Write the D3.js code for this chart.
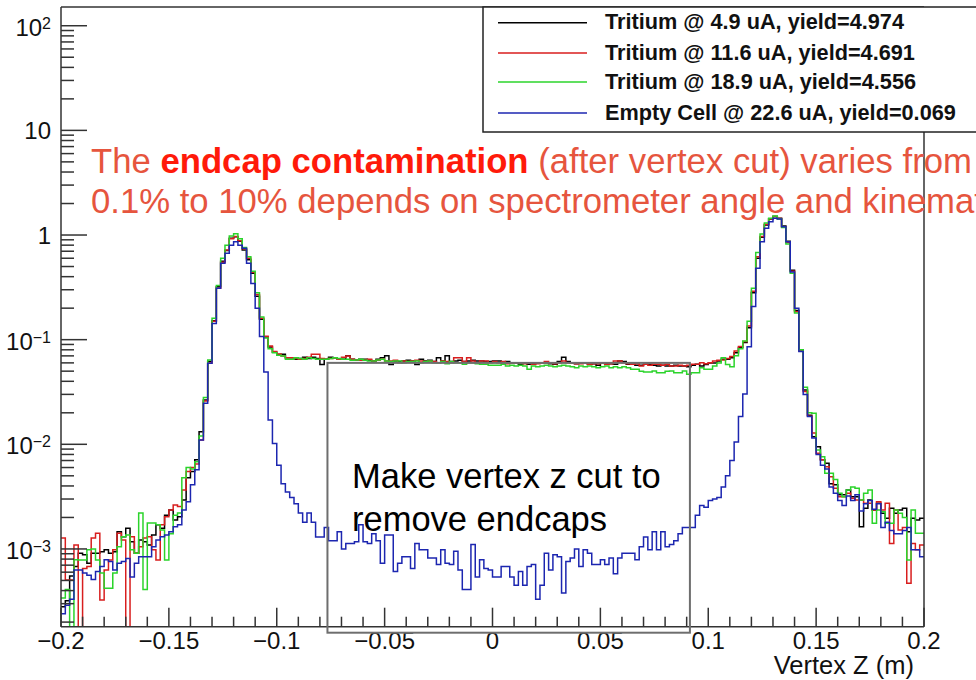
<!DOCTYPE html>
<html>
<head>
<meta charset="utf-8">
<script src="https://cdn.jsdelivr.net/npm/d3@7"></script>
<style>
  html, body { margin: 0; padding: 0; background: #fff; }
  svg { display: block; font-family: "Liberation Sans", Arial, Helvetica, sans-serif; }
</style>
</head>
<body>
<div id="chart"></div>
<script>
// Vertex Z histograms, 200 bins of 0.002 m from -0.2 to 0.2 (ROOT-style log plot).

const zMin = -0.2, zMax = 0.2, binWidth = 0.002;

// Empty cell @ 22.6 uA (blue)
const emptyCell = [
  2.4e-4, 2.9e-4, 3.3e-4, 6.3e-4, 6.3e-4, 5.9e-4, 5.6e-4, 5.1e-4, 6.1e-4, 6.8e-4,
  7.9e-4, 7.6e-4, 6.3e-4, 7.3e-4, 7.6e-4, 8.1e-4, 5.4e-4, 7.3e-4, 8.4e-4, 8.4e-4,
  8.4e-4, 1.05e-3, 1.22e-3, 1.31e-3, 1.36e-3, 1.46e-3, 1.63e-3, 1.7e-3, 2.36e-3, 2.83e-3,
  4.1e-3, 5.7e-3, 0.011, 0.0247, 0.0594, 0.143, 0.31, 0.537, 0.668, 0.80,
  0.863, 0.80, 0.746, 0.537, 0.345, 0.20, 0.107, 0.049, 0.0171, 0.0102,
  0.0063, 0.0042, 0.0035, 0.0031, 0.0027, 0.0022, 0.0018, 0.0022, 0.0018, 0.0013,
  0.0013, 0.0016, 0.0012, 0.0012, 0.00146, 0.0010, 0.00113, 0.00113, 0.00117, 0.0017,
  0.00117, 0.00113, 0.0014, 0.0012, 0.00073, 0.00136, 0.00136, 0.00061, 0.00073, 0.00084,
  0.00084, 0.00065, 0.00113, 0.00098, 0.00098, 0.00082, 0.00082, 0.00071, 0.00098, 0.00073,
  0.00071, 0.00095, 0.00063, 0.00041, 0.00041, 0.0011, 0.00054, 0.00079, 0.00065, 0.00063,
  0.00054, 0.00054, 0.00068, 0.00068, 0.00054, 0.00045, 0.00061, 0.00045, 0.00068, 0.00071,
  0.00033, 0.00045, 0.00091, 0.00063, 0.00088, 0.00084, 0.00038, 0.00076, 0.00082, 0.0010,
  0.00068, 0.00098, 0.00091, 0.00071, 0.00071, 0.00079, 0.00071, 0.00082, 0.00058, 0.00082,
  0.00091, 0.00091, 0.00091, 0.00079, 0.00105, 0.0013, 0.00098, 0.00146, 0.00098, 0.00146,
  0.00105, 0.0011, 0.0012, 0.0014, 0.0016, 0.0016, 0.0016, 0.0021, 0.0026, 0.0025,
  0.0029, 0.0030, 0.0031, 0.0039, 0.0050, 0.0070, 0.0105, 0.0184, 0.0303, 0.0855,
  0.207, 0.481, 0.863, 1.16, 1.34, 1.45, 1.42, 1.2, 0.863, 0.444,
  0.2, 0.077, 0.03, 0.0184, 0.0115, 0.008, 0.0063, 0.0058, 0.0039, 0.0034,
  0.0029, 0.0026, 0.0032, 0.0029, 0.0033, 0.0023, 0.0027, 0.0029, 0.0024, 0.0027,
  0.0016, 0.0018, 0.0015, 0.0014, 0.0014, 0.0015, 0.0016, 0.00098, 0.00098, 0.00084
];

// Tritium @ 4.9 uA (black)
const tritium49 = [
  2.8e-4, 3.2e-4, 5.5e-4, 6.8e-4, 9.1e-4, 8.8e-4, 7.3e-4, 9.1e-4, 9.1e-4, 9.4e-4,
  9.8e-4, 9.1e-4, 9.4e-4, 1.46e-3, 1.31e-3, 1.58e-3, 1.17e-3, 9.1e-4, 1.22e-3, 1.17e-3,
  1.09e-3, 1.36e-3, 1.7e-3, 1.58e-3, 2.1e-3, 2.36e-3, 1.89e-3, 2.03e-3, 2.94e-3, 4.8e-3,
  5.5e-3, 7.1e-3, 0.0132, 0.0265, 0.062, 0.152, 0.32, 0.56, 0.71, 0.93,
  0.96, 0.87, 0.72, 0.58, 0.43, 0.26, 0.157, 0.106, 0.085, 0.076,
  0.072, 0.0725, 0.067, 0.067, 0.065, 0.066, 0.068, 0.066, 0.068, 0.066,
  0.058, 0.065, 0.068, 0.067, 0.065, 0.065, 0.070, 0.065, 0.064, 0.065,
  0.065, 0.0635, 0.0626, 0.065, 0.067, 0.070, 0.058, 0.0626, 0.0617, 0.0626,
  0.0635, 0.0626, 0.058, 0.065, 0.0626, 0.0635, 0.0617, 0.067, 0.0626, 0.070,
  0.0617, 0.0626, 0.0635, 0.0617, 0.0626, 0.0635, 0.0626, 0.0626, 0.0617, 0.0617,
  0.0626, 0.0626, 0.0603, 0.0617, 0.0603, 0.0603, 0.0582, 0.0603, 0.0582, 0.059,
  0.0603, 0.0603, 0.0603, 0.059, 0.0582, 0.0617, 0.068, 0.0617, 0.0603, 0.059,
  0.0603, 0.0603, 0.0582, 0.059, 0.057, 0.0603, 0.059, 0.059, 0.0582, 0.0626,
  0.0617, 0.0582, 0.0582, 0.057, 0.057, 0.0582, 0.0582, 0.057, 0.0561, 0.057,
  0.0561, 0.0561, 0.057, 0.0561, 0.0561, 0.055, 0.057, 0.0582, 0.0561, 0.058,
  0.060, 0.060, 0.0626, 0.065, 0.065, 0.067, 0.075, 0.084, 0.094, 0.13,
  0.28, 0.6, 0.95, 1.25, 1.42, 1.5, 1.45, 1.22, 0.87, 0.46,
  0.19, 0.08, 0.033, 0.019, 0.0118, 9.5e-3, 7.1e-3, 6.6e-3, 4.2e-3, 4.1e-3,
  3.3e-3, 3.3e-3, 3.66e-3, 3.16e-3, 3.16e-3, 1.63e-3, 2.45e-3, 2.94e-3, 2.36e-3, 2.73e-3,
  2.19e-3, 1.96e-3, 2.45e-3, 2.19e-3, 2.36e-3, 2.45e-3, 1.46e-3, 1.96e-3, 1.89e-3, 1.96e-3
];

// Tritium @ 11.6 uA (red)
const tritium116 = [
  1.27e-3, 5.05e-4, 5.05e-4, 1.09e-3, 0, 6.5e-4, 6.8e-4, 1.27e-3, 1.41e-3, 3.26e-4,
  6.3e-4, 7.85e-4, 9.8e-4, 1.41e-3, 1.22e-3, 0, 1.31e-3, 9.1e-4, 1.05e-3, 1.27e-3,
  1.31e-3, 9.8e-4, 7.85e-4, 1.7e-3, 2.03e-3, 2.36e-3, 2.63e-3, 2.54e-3, 3.66e-3, 5.5e-3,
  6.0e-3, 6.5e-3, 0.011, 0.026, 0.06, 0.15, 0.31, 0.55, 0.72, 0.92,
  0.97, 0.88, 0.74, 0.6, 0.44, 0.27, 0.16, 0.108, 0.087, 0.077,
  0.073, 0.0698, 0.0673, 0.0673, 0.066, 0.065, 0.066, 0.068, 0.0725, 0.0725,
  0.066, 0.065, 0.066, 0.0673, 0.065, 0.068, 0.0698, 0.065, 0.064, 0.0635,
  0.064, 0.065, 0.0626, 0.0635, 0.065, 0.0626, 0.0626, 0.0635, 0.0603, 0.0626,
  0.0617, 0.0626, 0.0635, 0.0626, 0.0617, 0.0626, 0.0617, 0.0603, 0.0626, 0.0617,
  0.0603, 0.0673, 0.0673, 0.0617, 0.0673, 0.0626, 0.0603, 0.0626, 0.0626, 0.0603,
  0.0617, 0.0603, 0.0617, 0.059, 0.0603, 0.0603, 0.0603, 0.059, 0.0603, 0.0582,
  0.059, 0.0603, 0.0617, 0.0603, 0.059, 0.0603, 0.0626, 0.0603, 0.0603, 0.059,
  0.059, 0.0603, 0.0582, 0.059, 0.059, 0.0603, 0.0582, 0.059, 0.0626, 0.0626,
  0.0603, 0.059, 0.0582, 0.059, 0.0561, 0.0582, 0.057, 0.0582, 0.0582, 0.057,
  0.0582, 0.0561, 0.0561, 0.057, 0.0561, 0.057, 0.0582, 0.0582, 0.0603, 0.059,
  0.0603, 0.0626, 0.0635, 0.064, 0.066, 0.069, 0.078, 0.086, 0.096, 0.135,
  0.29, 0.62, 0.97, 1.27, 1.43, 1.5, 1.44, 1.2, 0.85, 0.45,
  0.185, 0.078, 0.032, 0.0185, 0.0128, 8.2e-3, 7.1e-3, 6.1e-3, 4.9e-3, 3.8e-3,
  3.16e-3, 3.16e-3, 3.4e-3, 3.05e-3, 2.94e-3, 2.94e-3, 2.73e-3, 2.73e-3, 2.36e-3, 2.83e-3,
  2.36e-3, 2.73e-3, 1.13e-3, 2.36e-3, 1.52e-3, 1.6e-3, 4.7e-4, 1.13e-3, 9.8e-4, 1.09e-3
];

// Tritium @ 18.9 uA (green)
const tritium189 = [
  3.4e-4, 4.1e-4, 0, 7.9e-4, 7.85e-4, 7.85e-4, 9.8e-4, 1.0e-3, 7.85e-4, 5.9e-4,
  4.2e-4, 4.2e-4, 5.9e-4, 1.05e-3, 1.31e-3, 1.36e-3, 9.8e-4, 9.1e-4, 2.2e-3, 4.1e-4,
  1.77e-3, 1.77e-3, 1.7e-3, 1.52e-3, 7.85e-4, 1.4e-3, 2.1e-3, 2.2e-3, 4.8e-3, 6.0e-3,
  5.8e-3, 6.8e-3, 0.012, 0.028, 0.064, 0.16, 0.33, 0.6, 0.8, 0.98,
  1.03, 0.92, 0.76, 0.62, 0.45, 0.28, 0.165, 0.104, 0.082, 0.075,
  0.071, 0.0698, 0.065, 0.065, 0.0673, 0.066, 0.065, 0.0673, 0.066, 0.065,
  0.065, 0.065, 0.066, 0.0673, 0.066, 0.065, 0.065, 0.0635, 0.064, 0.065,
  0.0635, 0.0626, 0.0626, 0.064, 0.065, 0.0626, 0.0617, 0.0626, 0.0626, 0.0603,
  0.0617, 0.0617, 0.0626, 0.0603, 0.0617, 0.0626, 0.0603, 0.0603, 0.0617, 0.059,
  0.0617, 0.0603, 0.0603, 0.0582, 0.0603, 0.0603, 0.059, 0.0582, 0.0582, 0.057,
  0.057, 0.057, 0.0582, 0.0561, 0.057, 0.0561, 0.057, 0.0561, 0.0521, 0.0561,
  0.055, 0.0561, 0.057, 0.0561, 0.055, 0.0561, 0.057, 0.0561, 0.055, 0.054,
  0.0561, 0.055, 0.0561, 0.055, 0.054, 0.055, 0.0561, 0.054, 0.055, 0.054,
  0.055, 0.054, 0.0521, 0.0521, 0.050, 0.049, 0.049, 0.0502, 0.0484, 0.0484,
  0.050, 0.0502, 0.0484, 0.0484, 0.0502, 0.0467, 0.0484, 0.0484, 0.054, 0.0521,
  0.0521, 0.0561, 0.060, 0.0673, 0.058, 0.055, 0.07, 0.082, 0.097, 0.15,
  0.31, 0.68, 1.02, 1.3, 1.45, 1.52, 1.42, 1.18, 0.82, 0.43,
  0.18, 0.08, 0.035, 0.02, 0.0198, 8.8e-3, 7.6e-3, 5.3e-3, 5.3e-3, 4.6e-3,
  3.4e-3, 3.16e-3, 3.66e-3, 3.9e-3, 3.8e-3, 2.94e-3, 3.4e-3, 3.66e-3, 1.76e-3, 2.36e-3,
  2.27e-3, 1.76e-3, 1.76e-3, 2.36e-3, 2.19e-3, 2.0e-3, 7.85e-4, 2.36e-3, 1.41e-3, 1.41e-3
];

const seriesNames = [
  "Tritium @ 4.9 uA, yield=4.974",
  "Tritium @ 11.6 uA, yield=4.691",
  "Tritium @ 18.9 uA, yield=4.556",
  "Empty Cell @ 22.6 uA, yield=0.069"
];
const seriesColors = ["#000000", "#d81e1e", "#2bd42b", "#1c26b0"];
const seriesValues = [tritium49, tritium116, tritium189, emptyCell];

const xMajorTicks = [-0.2, -0.15, -0.1, -0.05, 0, 0.05, 0.1, 0.15, 0.2];
const xTickLabels = ["\u22120.2", "\u22120.15", "\u22120.1", "\u22120.05", "0", "0.05", "0.1", "0.15", "0.2"];
const yMajorTicks = [1e-3, 1e-2, 1e-1, 1, 10, 100];
const yTickLabels = [["10", "\u22123"], ["10", "\u22122"], ["10", "\u22121"], ["1", ""], ["10", ""], ["10", "2"]];

// region of the "vertex z cut" box, in data units
const cutLow = -0.0765, cutHigh = 0.0915, cutTop = 0.060;

// ---------------------------------------------------------------- layout
const W = 976, H = 680;
const plot = { left: 61, right: 924, top: 7, bottom: 626.7 };
const yLo = Math.pow(10, -3.743), yHi = Math.pow(10, 2.179);

const x = d3.scaleLinear().domain([zMin, zMax]).range([plot.left, plot.right]);
const y = d3.scaleLog().domain([yLo, yHi]).range([plot.bottom, plot.top]);

const svg = d3.select("#chart").append("svg")
  .attr("width", W).attr("height", H).attr("viewBox", `0 0 ${W} ${H}`);

svg.append("rect").attr("width", W).attr("height", H).attr("fill", "#fff");

svg.append("clipPath").attr("id", "plotclip").append("rect")
  .attr("x", plot.left).attr("y", plot.top)
  .attr("width", plot.right - plot.left).attr("height", plot.bottom - plot.top);

// histograms as step lines (zero/too-small bins fall to the frame bottom)
const stepLine = d3.line()
  .x(d => x(d[0]))
  .y(d => y(d[1] > 0 ? d[1] : yLo * 0.5))
  .curve(d3.curveStepAfter);

const histG = svg.append("g").attr("clip-path", "url(#plotclip)");
seriesValues.forEach((vals, k) => {
  const pts = vals.map((v, i) => [zMin + i * binWidth, v]);
  pts.push([zMax, vals[vals.length - 1]]);
  histG.append("path")
    .attr("d", stepLine(pts))
    .attr("fill", "none")
    .attr("stroke", seriesColors[k])
    .attr("stroke-width", 1.5)
    .attr("stroke-linejoin", "miter");
});

// ---------------------------------------------------------------- axes (ROOT style, ticks inside)
const axisColor = "#333";
const frame = svg.append("g");
frame.append("line").attr("x1", plot.left).attr("x2", plot.left)
  .attr("y1", plot.top).attr("y2", plot.bottom).attr("stroke", axisColor).attr("stroke-width", 1.5);
frame.append("line").attr("x1", plot.left).attr("x2", plot.right)
  .attr("y1", plot.bottom).attr("y2", plot.bottom).attr("stroke", axisColor).attr("stroke-width", 1.5);
frame.append("line").attr("x1", plot.left).attr("x2", plot.right)
  .attr("y1", plot.top).attr("y2", plot.top).attr("stroke", axisColor).attr("stroke-width", 1.5);
frame.append("line").attr("x1", plot.right).attr("x2", plot.right)
  .attr("y1", plot.top).attr("y2", plot.bottom).attr("stroke", axisColor).attr("stroke-width", 1.5);

// x ticks: majors every 0.05, minors every 0.01
const xMinor = d3.range(-20, 21).map(k => k / 100).filter(v => Math.abs(v * 20 - Math.round(v * 20)) > 1e-6);
const xAxisG = svg.append("g");
xAxisG.selectAll("line.maj").data(xMajorTicks).join("line")
  .attr("x1", d => x(d)).attr("x2", d => x(d))
  .attr("y1", plot.bottom).attr("y2", plot.bottom - 19)
  .attr("stroke", axisColor).attr("stroke-width", 1.5);
xAxisG.selectAll("line.min").data(xMinor).join("line")
  .attr("x1", d => x(d)).attr("x2", d => x(d))
  .attr("y1", plot.bottom).attr("y2", plot.bottom - 10)
  .attr("stroke", axisColor).attr("stroke-width", 1.5);
xAxisG.selectAll("text").data(xMajorTicks).join("text")
  .attr("x", d => x(d)).attr("y", 649)
  .attr("text-anchor", "middle")
  .attr("font-size", 24).attr("fill", "#111")
  .text((d, i) => xTickLabels[i]);

svg.append("text")
  .attr("x", 914).attr("y", 674)
  .attr("text-anchor", "end").attr("font-size", 25.5).attr("fill", "#111")
  .text("Vertex Z (m)");

// y ticks: decades + minor 2..9
const yMinor = [];
for (let e = -4; e <= 2; e++) {
  for (let m = 2; m <= 9; m++) {
    const v = m * Math.pow(10, e);
    if (v > yLo && v < yHi) yMinor.push(v);
  }
}
const yAxisG = svg.append("g");
yAxisG.selectAll("line.maj").data(yMajorTicks).join("line")
  .attr("x1", plot.left).attr("x2", plot.left + 26)
  .attr("y1", d => y(d)).attr("y2", d => y(d))
  .attr("stroke", axisColor).attr("stroke-width", 1.5);
yAxisG.selectAll("line.min").data(yMinor).join("line")
  .attr("x1", plot.left).attr("x2", plot.left + 13)
  .attr("y1", d => y(d)).attr("y2", d => y(d))
  .attr("stroke", axisColor).attr("stroke-width", 1.5);
const yLab = yAxisG.selectAll("text").data(yMajorTicks).join("text")
  .attr("x", 51)
  .attr("y", (d, i) => y(d) + (yTickLabels[i][1] ? 10 : 9))
  .attr("text-anchor", "end")
  .attr("font-size", 24).attr("fill", "#111");
yLab.each(function (d, i) {
  const t = d3.select(this);
  const [base, exp] = yTickLabels[i];
  t.append("tspan").text(base);
  if (exp) t.append("tspan").attr("font-size", 16).attr("dy", -7).text(exp);
});

// ---------------------------------------------------------------- cut box annotation
svg.append("rect")
  .attr("x", x(cutLow)).attr("y", y(cutTop))
  .attr("width", x(cutHigh) - x(cutLow))
  .attr("height", plot.bottom + 6 - y(cutTop))
  .attr("fill", "none").attr("stroke", "#6e6e6e").attr("stroke-width", 2);

// ---------------------------------------------------------------- legend
const leg = svg.append("g");
leg.append("rect")
  .attr("x", 483).attr("y", 7).attr("width", 520).attr("height", 125)
  .attr("fill", "#fff").attr("stroke", "#222").attr("stroke-width", 1.5);
const legRows = [22.7, 53, 82, 113];
seriesNames.forEach((name, k) => {
  leg.append("line")
    .attr("x1", 498).attr("x2", 587)
    .attr("y1", legRows[k]).attr("y2", legRows[k])
    .attr("stroke", seriesColors[k]).attr("stroke-width", 1.5);
  leg.append("text")
    .attr("x", 605).attr("y", legRows[k] + 6.5)
    .attr("font-size", 21.7).attr("font-weight", "bold").attr("fill", "#111")
    .text(name);
});

// ---------------------------------------------------------------- slide annotations
const note = svg.append("text")
  .attr("x", 91).attr("y", 173)
  .attr("font-size", 34.7).attr("fill", "#e6553e");
note.append("tspan").text("The ");
note.append("tspan").attr("font-weight", "bold").attr("fill", "#ff1a0a").text("endcap contamination");
note.append("tspan").text(" (after vertex cut) varies from");
svg.append("text")
  .attr("x", 91).attr("y", 213)
  .attr("font-size", 34.7).attr("fill", "#e6553e")
  .text("0.1% to 10% depends on spectrometer angle and kinematics");

const cutNote = svg.append("text").attr("font-size", 34.5).attr("fill", "#000");
cutNote.append("tspan").attr("x", 352).attr("y", 488).text("Make vertex z cut to");
cutNote.append("tspan").attr("x", 352).attr("y", 531).text("remove endcaps");
</script>
</body>
</html>
